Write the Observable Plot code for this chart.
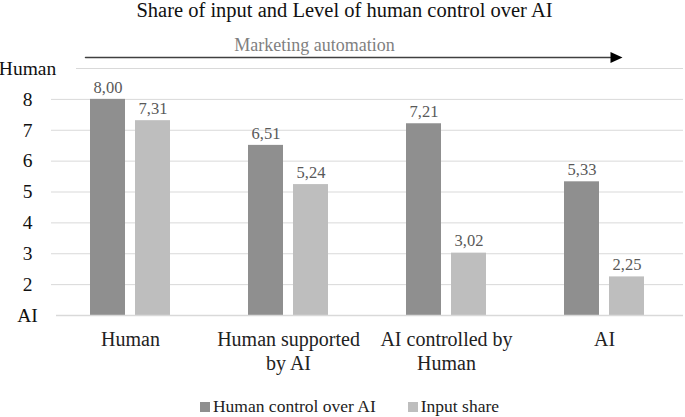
<!DOCTYPE html>
<html>
<head>
<meta charset="utf-8">
<script src="https://cdn.jsdelivr.net/npm/d3@7"></script>
<script src="https://cdn.jsdelivr.net/npm/@observablehq/plot@0.6"></script>
<style>
  body { margin: 0; background: #fff; font-family: "Liberation Serif", serif; }
  #wrap { width: 685px; height: 417px; position: relative; overflow: hidden; background: #fff; font-family: "Liberation Serif", serif; }
  #title { height: 22px; line-height: 21px; text-align: center; font-size: 20.5px; color: #111; padding-left: 4px; white-space: nowrap; font-family: "Liberation Serif", serif; }
  #legend { height: 19px; display: flex; justify-content: center; align-items: center; gap: 32px; font-size: 17.5px; color: #222; padding-left: 14px; white-space: nowrap; font-family: "Liberation Serif", serif; }
  .item { display: flex; align-items: center; gap: 3px; }
  .sw { width: 10px; height: 10px; display: inline-block; }
  svg { display: block; }
  svg text { font-family: "Liberation Serif", serif !important; }
</style>
</head>
<body>
<div id="wrap">
  <div id="title">Share of input and Level of human control over AI</div>
  <div id="chart"></div>
  <div id="legend"></div>
</div>
<script>
const categories = ["Human", "Human supported by AI", "AI controlled by Human", "AI"];
const categoryLabels = ["Human", "Human supported\nby AI", "AI controlled by\nHuman", "AI"];
const humanControl = [8.00, 6.51, 7.21, 5.33];
const inputShare = [7.31, 5.24, 3.02, 2.25];
const seriesNames = ["Human control over AI", "Input share"];
const yTicks = [1, 2, 3, 4, 5, 6, 7, 8, 9];
const yTickLabels = ["AI", "2", "3", "4", "5", "6", "7", "8", "Human"];
const automation = [{from: "Human", to: "AI", label: "Marketing automation"}];

const colors = ["#8f8f8f", "#bebebe"];
const rows = categories.map((c, i) => ({category: c, label: categoryLabels[i], hc: humanControl[i], is: inputShare[i]}));
const fmt = v => d3.format(".2f")(v).replace(".", ",");
const arrowLevel = 9.356;
const serif = "'Liberation Serif', serif";

const triangleRight = {
  draw(ctx, size) {
    const r = Math.sqrt(size / Math.PI);
    ctx.moveTo(r * 1.2, 0);
    ctx.lineTo(-r * 1.2, -r * 1.1);
    ctx.lineTo(-r * 1.2, r * 1.1);
    ctx.closePath();
  }
};

const chart = Plot.plot({
  width: 685,
  height: 375,
  marginLeft: 51,
  marginRight: 2,
  marginTop: 46,
  marginBottom: 82,
  style: {fontFamily: serif, background: "#fff", overflow: "visible"},
  x: {domain: categories, padding: 0, axis: null},
  y: {domain: [1, 9], axis: null},
  marks: [
    Plot.ruleY(yTicks.slice(1, -1), {stroke: "#d9d9d9", strokeWidth: 1}),
    Plot.ruleY([yTicks[yTicks.length - 1]], {stroke: "#d9d9d9", strokeWidth: 1, insetLeft: 25}),
    Plot.barY(rows, {x: "category", y1: 1, y2: "hc", fill: colors[0], insetLeft: 39, insetRight: 84}),
    Plot.barY(rows, {x: "category", y1: 1, y2: "is", fill: colors[1], insetLeft: 84, insetRight: 39}),
    Plot.ruleY([yTicks[0]], {stroke: "#d9d9d9", strokeWidth: 1.5, insetLeft: 5}),
    Plot.text(rows, {x: "category", y: "hc", text: d => fmt(d.hc), dx: -22.5, dy: -12, fontSize: 16.5, fill: "#595959", fontFamily: serif}),
    Plot.text(rows, {x: "category", y: "is", text: d => fmt(d.is), dx: 22.5, dy: -12, fontSize: 16.5, fill: "#595959", fontFamily: serif}),
    Plot.text(yTicks, {y: d => d, text: (d, i) => yTickLabels[i], frameAnchor: "left", lineAnchor: "middle", dx: -24, textAnchor: "middle", fontSize: 19.5, fill: "#111", fontFamily: serif}),
    Plot.text(rows, {x: "category", text: "label", frameAnchor: "bottom", lineAnchor: "top", dy: 13, fontSize: 20, lineHeight: 1.2, fill: "#222", fontFamily: serif}),
    Plot.arrow(automation, {x1: "from", x2: "to", y1: arrowLevel, y2: arrowLevel, insetStart: -45, insetEnd: -6, headLength: 0, stroke: "#404040", strokeWidth: 1.5}),
    Plot.dot(automation, {x: "to", y: arrowLevel, dx: 12, r: 5, symbol: triangleRight, fill: "#000", stroke: null}),
    Plot.text(automation, {text: "label", frameAnchor: "top", lineAnchor: "middle", dx: -53, dy: -23, fontSize: 18, fill: "#7f7f7f", fontFamily: serif})
  ]
});
document.getElementById("chart").appendChild(chart);

const legend = document.getElementById("legend");
seriesNames.forEach((name, i) => {
  const item = document.createElement("div");
  item.className = "item";
  const sw = document.createElement("span");
  sw.className = "sw";
  sw.style.background = colors[i];
  const t = document.createElement("span");
  t.textContent = name;
  item.appendChild(sw);
  item.appendChild(t);
  legend.appendChild(item);
});
</script>
</body>
</html>
